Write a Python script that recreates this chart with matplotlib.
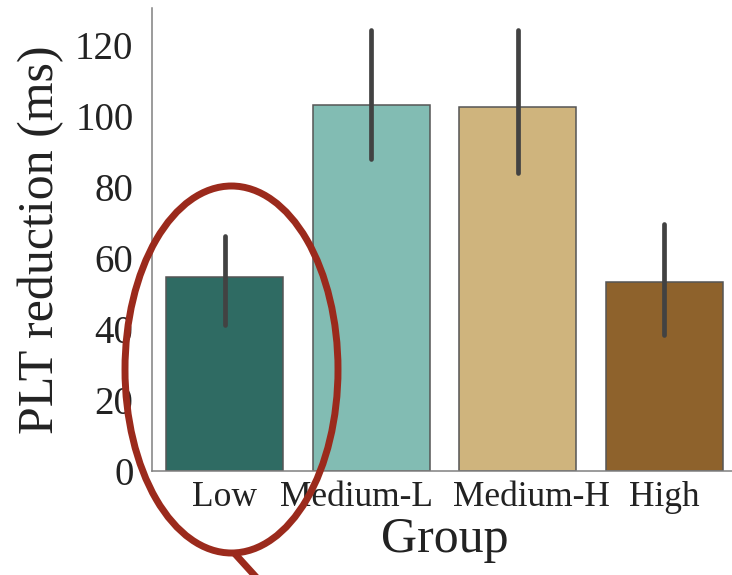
import matplotlib
matplotlib.use("Agg")
import matplotlib.pyplot as plt
import matplotlib.transforms as mtransforms
from matplotlib.patches import Ellipse
from matplotlib.lines import Line2D

# bar heights and error bar ends
groups = ["Low", "Medium-L", "Medium-H", "High"]
means = [54.7, 103.0, 102.3, 53.3]
err_low = [41.1, 87.8, 83.9, 38.3]
err_high = [66.0, 124.0, 124.0, 69.6]
colors = ["#2f6b63", "#82bcb3", "#cfb47d", "#8e622c"]
label_shift = [0, -15, 14, 0]  # px, the middle labels sit off-centre in the original

plt.rcParams['font.family'] = ['Liberation Serif', 'DejaVu Serif']

W, H = 732, 575
fig = plt.figure(figsize=(W / 100, H / 100), dpi=100)
# axes runs a little past the right edge, like the cropped original
ax = fig.add_axes([151.5 / W, (H - 471) / H, 586 / W, (471 - 8.3) / H])

x = list(range(len(groups)))
ax.bar(x, means, width=0.8, color=colors, edgecolor="#555555", linewidth=1.1, zorder=2)

yerr = [[m - lo for m, lo in zip(means, err_low)], [hi - m for m, hi in zip(means, err_high)]]
eb = ax.errorbar(x, means, yerr=yerr, fmt="none", ecolor="#424242", elinewidth=3.4, capsize=0, zorder=3)
eb[2][0].set_capstyle("round")

ax.set_xlim(-0.5, len(groups) - 0.5)
ax.set_ylim(0, 130.2)
ax.set_yticks([0, 20, 40, 60, 80, 100, 120])
ax.set_xticks(x)
ax.set_xticklabels(groups)

for s in ["top", "right"]:
    ax.spines[s].set_visible(False)
for s in ["left", "bottom"]:
    ax.spines[s].set_color("#808080")
    ax.spines[s].set_linewidth(1.1)

ax.tick_params(axis="y", length=0, pad=13, labelsize=28, labelcolor="#222222")
ax.tick_params(axis="x", length=0, pad=7, labelsize=25.5, labelcolor="#222222")
for lab, dx in zip(ax.get_xticklabels(), label_shift):
    lab.set_transform(lab.get_transform() + mtransforms.ScaledTranslation(dx / 100, 0, fig.dpi_scale_trans))
ax.set_xlabel("Group", fontsize=36, color="#222222", labelpad=2)
ax.set_ylabel("PLT reduction (ms)", fontsize=36, color="#222222", labelpad=8)

# red hand-drawn style circle around the Low bar
ell = Ellipse((231.5 / W, 1 - 369.5 / H), 213 / W, 367 / H, transform=fig.transFigure,
              fill=False, edgecolor="#9b2a1c", linewidth=5, zorder=10)
fig.add_artist(ell)
tail = Line2D([236 / W, 266 / W], [1 - 555 / H, 1 - 588 / H], transform=fig.transFigure,
              color="#9b2a1c", linewidth=5, zorder=10)
fig.add_artist(tail)

fig.savefig("out.png", dpi=100)
